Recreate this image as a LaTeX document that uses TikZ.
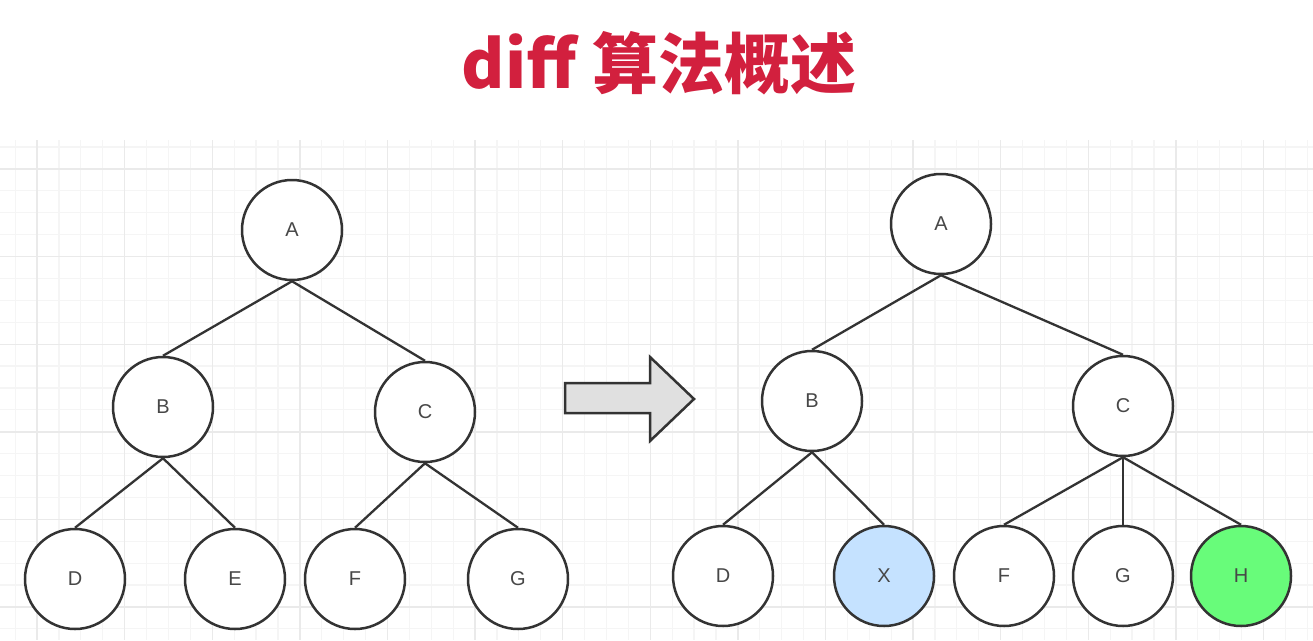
\documentclass[tikz,border=0pt]{standalone}
\usepackage{fontspec}
\setmainfont{Liberation Sans}
\newfontfamily\cjk{Noto Sans CJK SC}
\usepackage{tikz}
\usetikzlibrary{positioning}
\definecolor{titlered}{RGB}{210,32,62}
\definecolor{gridminor}{RGB}{245,245,245}
\definecolor{gridmajor}{RGB}{234,234,234}
\definecolor{ink}{RGB}{51,51,51}
\definecolor{newblue}{RGB}{197,226,255}
\definecolor{newgreen}{RGB}{104,252,122}

\begin{document}
\begin{tikzpicture}[
  x=1pt,y=-1pt,
  every node/.style={font=\fontsize{20}{22}\selectfont,text=ink!90},
  tnode/.style={draw=ink,circle,line width=2.5pt,fill=white,minimum size=100pt,inner sep=0pt},
  edge/.style={draw=ink,line width=2.3pt},
  block/.style={draw=ink,line width=2.5pt,fill=black!12,line join=miter}
]
\useasboundingbox[fill=white] (0,0) rectangle (1313,640);
% grid
\foreach \k in {0,...,59}
  \draw[gridminor,line width=1.2pt] (15.1+21.9*\k,140) -- (15.1+21.9*\k,640);
\foreach \k in {0,...,22}
  \draw[gridminor,line width=1.2pt] (0,147+21.9*\k) -- (1313,147+21.9*\k);
\foreach \k in {0,...,14}
  \draw[gridmajor,line width=1.4pt] (37+87.6*\k,140) -- (37+87.6*\k,640);
\foreach \k in {0,...,5}
  \draw[gridmajor,line width=1.4pt] (0,169+87.6*\k) -- (1313,169+87.6*\k);

\node[font=\cjk\bfseries\fontsize{66}{72}\selectfont,text=titlered] (title) at (659,63) {diff 算法概述};

% old tree
\node[tnode] (A) at (292,230) {A};
\node[tnode] (B) at (163,407) {B};
\node[tnode] (C) at (425,412) {C};
\node[tnode] (D) at (75,579) {D};
\node[tnode] (E) at (235,579) {E};
\node[tnode] (F) at (355,579) {F};
\node[tnode] (G) at (518,579) {G};
\draw[edge] (A.south)--(B.north);
\draw[edge] (A.south)--(C.north);
\draw[edge] (B.south)--(D.north);
\draw[edge] (B.south)--(E.north);
\draw[edge] (C.south)--(F.north);
\draw[edge] (C.south)--(G.north);

% arrow
\draw[block] (565,383) -- (650,383) -- (650,357) -- (694,399) -- (650,441) -- (650,413) -- (565,413) -- cycle;

% new tree
\node[tnode] (nA) at (941,224) {A};
\node[tnode] (nB) at (812,401) {B};
\node[tnode] (nC) at (1123,406) {C};
\node[tnode] (nD) at (723,576) {D};
\node[tnode,fill=newblue] (nX) at (884,576) {X};
\node[tnode] (nF) at (1004,576) {F};
\node[tnode] (nG) at (1123,576) {G};
\node[tnode,fill=newgreen] (nH) at (1241,576) {H};
\draw[edge] (nA.south)--(nB.north);
\draw[edge] (nA.south)--(nC.north);
\draw[edge] (nB.south)--(nD.north);
\draw[edge] (nB.south)--(nX.north);
\draw[edge] (nC.south)--(nF.north);
\draw[edge] (nC.south)--(nG.north);
\draw[edge] (nC.south)--(nH.north);
\end{tikzpicture}
\end{document}
